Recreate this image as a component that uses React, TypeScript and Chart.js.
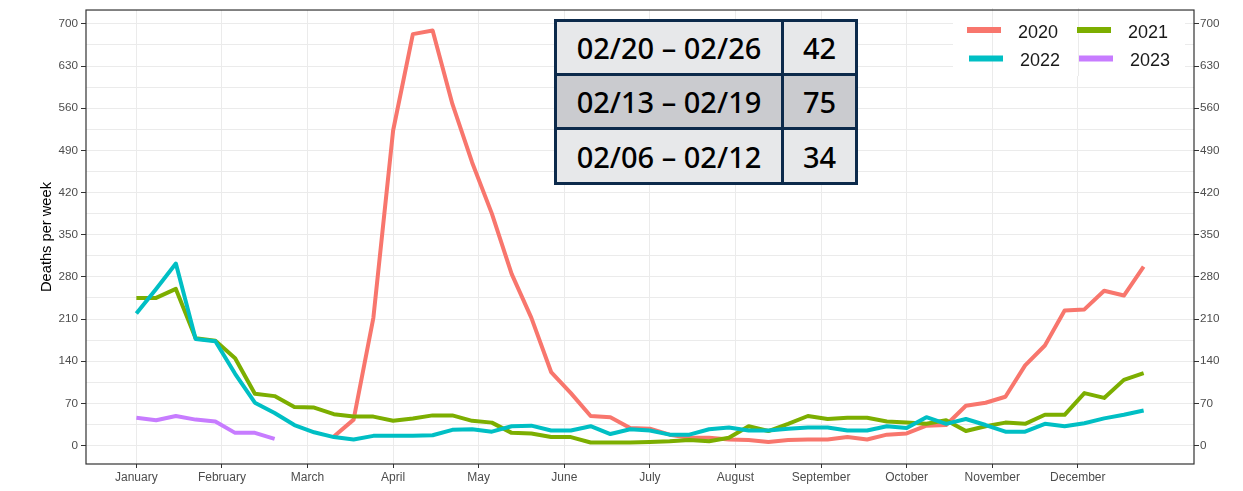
import React, { useEffect, useRef } from "react";
import { Chart, registerables } from "chart.js";

Chart.register(...registerables);

// ---------- DATA ----------
const weeks = [
  1, 2, 3, 4, 5, 6, 7, 8, 9, 10, 11, 12, 13, 14, 15, 16, 17, 18, 19, 20, 21, 22, 23, 24, 25, 26,
  27, 28, 29, 30, 31, 32, 33, 34, 35, 36, 37, 38, 39, 40, 41, 42, 43, 44, 45, 46, 47, 48, 49, 50, 51, 52,
];

const deaths2020 = [
  null, null, null, null, null, null, null, null, null, null,
  15, 43, 212, 523, 683, 689, 567, 470, 385, 285, 212, 122, 87, 49, 47, 29, 28, 18, 13, 13, 10, 9, 6, 9, 10, 10, 14,
  10, 18, 20, 33, 34, 66, 71, 81, 133, 166, 224, 226, 257, 249, 297,
];

const deaths2021 = [
  245, 245, 260, 178, 174, 145, 86, 82, 64, 63, 52, 48, 48, 41, 45, 50, 50, 41, 38, 21, 20, 14, 14, 5, 5, 5,
  6, 7, 9, 7, 13, 32, 24, 36, 49, 44, 46, 46, 40, 38, 36, 42, 24, 32, 38, 36, 51, 51, 87, 79, 109, 120,
];

const deaths2022 = [
  219, 260, 302, 177, 173, 119, 71, 54, 34, 22, 14, 10, 16, 16, 16, 17, 26, 27, 23, 32, 33, 25, 25, 32, 19, 27,
  25, 18, 18, 27, 30, 25, 25, 28, 30, 30, 25, 25, 32, 29, 47, 36, 44, 34, 23, 23, 36, 32, 37, 45, 51, 58,
];

const deaths2023 = [46, 42, 49, 43, 40, 21, 21, 11];

const seriesLabels = ["2020", "2021", "2022", "2023"];
const seriesColors = ["#F8766D", "#7CAE00", "#00BFC4", "#C77CFF"];

const monthLabels = [
  "January", "February", "March", "April", "May", "June",
  "July", "August", "September", "October", "November", "December",
];

const yTickValues = [0, 70, 140, 210, 280, 350, 420, 490, 560, 630, 700];

const tableRanges = ["02/20 \u2013 02/26", "02/13 \u2013 02/19", "02/06 \u2013 02/12"];
const tableCounts = [42, 75, 34];

// ---------- STYLE ----------
const FONT = "'Liberation Sans', Arial, Helvetica, sans-serif";
const TICK_COLOR = "#4d4d4d";
const GRID_COLOR = "#ebebeb";
const AXIS_LINE = "#333333";
const Y_MIN = -30.7;
const Y_MAX = 723;
const X_MIN = -1.55;
const X_MAX = 54.55;

function toPoints(values: (number | null)[]) {
  return values.map((v, i) => ({ x: weeks[i], y: v }));
}

function buildYTicks(scale: any) {
  const out: { value: number }[] = [];
  yTickValues.forEach((v, i) => {
    out.push({ value: v });
    if (i < yTickValues.length - 1) out.push({ value: (v + yTickValues[i + 1]) / 2 });
  });
  scale.ticks = out;
}

const isMajor = (v: number) => yTickValues.indexOf(v) >= 0;

const panelPlugin = {
  id: "panelPlugin",
  beforeDatasetsDraw(chart: any) {
    const ctx = chart.ctx;
    ctx.save();
    const lx = 953, ly = 8, lw = 232, lh = 68;
    ctx.fillStyle = "#ffffff";
    ctx.fillRect(lx, ly, lw, lh);
    const xs = chart.scales.x;
    ctx.strokeStyle = GRID_COLOR;
    ctx.lineWidth = 1;
    xs.ticks.forEach((t: any) => {
      const px = Math.round(xs.getPixelForValue(t.value)) + 0.5;
      if (px > lx && px < lx + lw) {
        ctx.beginPath();
        ctx.moveTo(px, ly);
        ctx.lineTo(px, ly + lh);
        ctx.stroke();
      }
    });
    ctx.restore();
  },
  afterDraw(chart: any) {
    const ctx = chart.ctx;
    const a = chart.chartArea;
    ctx.save();
    ctx.strokeStyle = AXIS_LINE;
    ctx.lineWidth = 1.2;
    ctx.strokeRect(a.left, a.top, a.right - a.left, a.bottom - a.top);

    const colX = [967, 1077];
    const rowY = [30, 58.5];
    ctx.font = "18px " + FONT;
    ctx.textBaseline = "middle";
    ctx.textAlign = "left";
    seriesLabels.forEach((lab, i) => {
      const r = Math.floor(i / 2);
      const c = i % 2;
      const dx = r === 1 ? 2 : 0;
      const x0 = colX[c] + dx;
      const y0 = rowY[r];
      ctx.strokeStyle = seriesColors[i];
      ctx.lineWidth = 6;
      ctx.lineCap = "butt";
      ctx.beginPath();
      ctx.moveTo(x0, y0);
      ctx.lineTo(x0 + 34, y0);
      ctx.stroke();
      ctx.fillStyle = "#1a1a1a";
      ctx.fillText(lab, x0 + 51, y0 + 3);
    });
    ctx.restore();
  },
};

function DataTable() {
  const rowTops = [3, 57, 111];
  const rowHeights = [51, 51, 52];
  const fills = ["#e7e8ea", "#cacbcf", "#e7e8ea"];
  const cellText: React.CSSProperties = {
    position: "absolute",
    display: "flex",
    alignItems: "center",
    justifyContent: "center",
    fontFamily: "'Noto Sans', 'Open Sans', sans-serif",
    fontWeight: 500,
    fontSize: 29,
    lineHeight: 1,
    color: "#000",
  };
  return (
    <div
      style={{
        position: "absolute",
        left: 554,
        top: 19,
        width: 304,
        height: 166,
        background: "#0c2a4b",
      }}
    >
      {tableRanges.map((rng, i) => (
        <React.Fragment key={rng}>
          <div
            style={{
              ...cellText,
              left: 3,
              top: rowTops[i],
              width: 224,
              height: rowHeights[i],
              background: fills[i],
            }}
          >
            {rng}
          </div>
          <div
            style={{
              ...cellText,
              left: 230,
              top: rowTops[i],
              width: 71,
              height: rowHeights[i],
              background: fills[i],
            }}
          >
            {String(tableCounts[i])}
          </div>
        </React.Fragment>
      ))}
    </div>
  );
}

export default function App() {
  const canvasRef = useRef<HTMLCanvasElement | null>(null);

  useEffect(() => {
    if (!canvasRef.current) return;
    const allSeries = [deaths2020, deaths2021, deaths2022, deaths2023];
    const chart = new Chart(canvasRef.current, {
      type: "line",
      data: {
        datasets: allSeries.map((vals, i) => ({
          label: seriesLabels[i],
          data: toPoints(vals as (number | null)[]),
          borderColor: seriesColors[i],
          backgroundColor: seriesColors[i],
          borderWidth: 4,
          pointRadius: 0,
          tension: 0,
          fill: false,
          spanGaps: false,
          order: 4 - i,
          borderCapStyle: "butt",
          borderJoinStyle: "round",
        })),
      } as any,
      options: {
        responsive: false,
        animation: false,
        layout: { padding: { top: 5, left: 0, right: 0, bottom: 0 } },
        plugins: {
          legend: { display: false },
          tooltip: { enabled: false },
          title: { display: false },
        },
        scales: {
          x: {
            type: "linear",
            position: "bottom",
            min: X_MIN,
            max: X_MAX,
            afterBuildTicks: (s: any) => {
              s.ticks = monthLabels.map((_, i) => ({ value: 1 + (i * 52) / 12 }));
            },
            afterFit: (s: any) => {
              s.height = 27;
            },
            ticks: {
              autoSkip: false,
              maxRotation: 0,
              minRotation: 0,
              padding: 2,
              color: TICK_COLOR,
              font: { family: FONT, size: 12 },
              callback: (_v: any, i: number) => monthLabels[i],
            },
            grid: {
              color: GRID_COLOR,
              lineWidth: 1,
              tickLength: 4,
              tickColor: AXIS_LINE,
            },
            border: { display: false },
          },
          y: {
            type: "linear",
            position: "left",
            min: Y_MIN,
            max: Y_MAX,
            afterBuildTicks: buildYTicks,
            afterFit: (s: any) => {
              s.width = 86;
            },
            title: {
              display: true,
              text: "Deaths per week",
              color: "#000",
              font: { family: FONT, size: 14.67 },
              padding: { top: 38.5, bottom: 0 },
            },
            ticks: {
              padding: 3,
              color: TICK_COLOR,
              font: { family: FONT, size: 11.7 },
              callback: (v: any) => (isMajor(v) ? String(v) : ""),
            },
            grid: {
              color: GRID_COLOR,
              lineWidth: 1,
              tickLength: 5,
              tickColor: (c: any) => (c.tick && isMajor(c.tick.value) ? AXIS_LINE : "rgba(0,0,0,0)"),
            },
            border: { display: false },
          },
          y2: {
            type: "linear",
            position: "right",
            min: Y_MIN,
            max: Y_MAX,
            afterBuildTicks: buildYTicks,
            afterFit: (s: any) => {
              s.width = 49;
            },
            ticks: {
              padding: 1,
              color: TICK_COLOR,
              font: { family: FONT, size: 11.7 },
              callback: (v: any) => (isMajor(v) ? String(v) : ""),
            },
            grid: {
              drawOnChartArea: false,
              lineWidth: 1,
              tickLength: 5,
              tickColor: (c: any) => (c.tick && isMajor(c.tick.value) ? AXIS_LINE : "rgba(0,0,0,0)"),
            },
            border: { display: false },
          },
        },
      } as any,
      plugins: [panelPlugin],
    });
    return () => chart.destroy();
  }, []);

  return (
    <div
      style={{
        position: "fixed",
        left: 0,
        top: 0,
        width: 1243,
        height: 491,
        background: "#ffffff",
        overflow: "hidden",
      }}
    >
      <canvas ref={canvasRef} width={1243} height={491} style={{ display: "block" }} />
      <DataTable />
    </div>
  );
}
